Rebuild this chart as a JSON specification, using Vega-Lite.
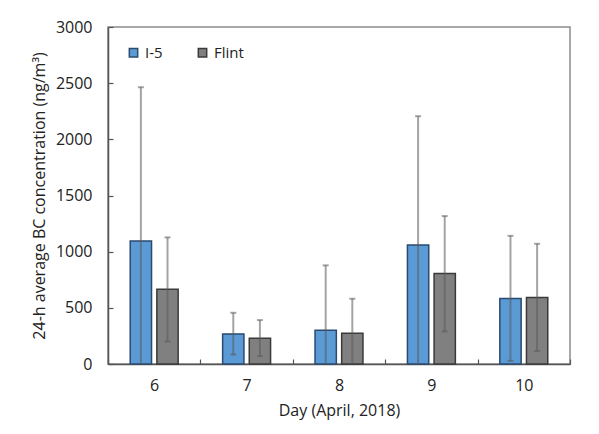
{
  "$schema": "https://vega.github.io/schema/vega-lite/v6.json",
  "width": 462,
  "height": 337,
  "autosize": "none",
  "padding": {"left": 108, "top": 27, "right": 29, "bottom": 70},
  "background": "white",
  "config": {
    "font": "Open Sans",
    "view": {"stroke": "#8c8c8c", "strokeWidth": 1.5},
    "axis": {"labelFont": "Open Sans", "titleFont": "Open Sans", "labelColor": "#222", "titleColor": "#222", "labelFontSize": 16, "titleFontSize": 16, "titleFontWeight": "normal", "grid": false, "domainColor": "#555", "domainWidth": 1.5, "tickColor": "#555", "tickWidth": 1.2}
  },
  "data": {
    "values": [
      {"day": "6", "site": "I-5", "mean": 1095, "lower": -275, "upper": 2464},
      {"day": "6", "site": "Flint", "mean": 665, "lower": 200, "upper": 1127},
      {"day": "7", "site": "I-5", "mean": 268, "lower": 84, "upper": 456},
      {"day": "7", "site": "Flint", "mean": 229, "lower": 70, "upper": 391},
      {"day": "8", "site": "I-5", "mean": 300, "lower": -278, "upper": 878},
      {"day": "8", "site": "Flint", "mean": 273, "lower": -35, "upper": 581},
      {"day": "9", "site": "I-5", "mean": 1059, "lower": -88, "upper": 2206},
      {"day": "9", "site": "Flint", "mean": 805, "lower": 290, "upper": 1317},
      {"day": "10", "site": "I-5", "mean": 583, "lower": 28, "upper": 1141},
      {"day": "10", "site": "Flint", "mean": 593, "lower": 116, "upper": 1070}
    ]
  },
  "encoding": {
    "x": {
      "field": "day", "type": "ordinal", "sort": ["6", "7", "8", "9", "10"],
      "scale": {"paddingInner": 0, "paddingOuter": 0},
      "axis": {"title": "Day (April, 2018)", "labelAngle": 0, "tickBand": "extent", "tickSize": -5, "labelPadding": 18, "titlePadding": 9}
    },
    "xOffset": {"field": "site", "type": "nominal", "sort": ["I-5", "Flint"], "scale": {"paddingInner": 0.2, "paddingOuter": 0.835}}
  },
  "layer": [
    {
      "mark": {"type": "bar", "stroke": "#333", "strokeWidth": 1.5},
      "encoding": {
        "y": {
          "field": "mean", "type": "quantitative",
          "scale": {"domain": [0, 3000]},
          "axis": {"title": "24-h average BC concentration (ng/m³)", "format": "d", "values": [0, 500, 1000, 1500, 2000, 2500, 3000], "tickSize": -5, "labelPadding": 21, "titlePadding": 8}
        },
        "fill": {
          "field": "site", "type": "nominal",
          "scale": {"domain": ["I-5", "Flint"], "range": ["#5b9bd5", "#808080"]},
          "legend": {"title": null, "orient": "none", "legendX": 18, "legendY": 18, "direction": "horizontal", "symbolType": "square", "symbolSize": 70, "symbolStrokeColor": "#333", "symbolStrokeWidth": 1.5, "labelFontSize": 15, "labelFont": "Open Sans", "labelColor": "#222", "columnPadding": 32, "labelOffset": 4}
        },
        "stroke": {
          "field": "site", "type": "nominal",
          "scale": {"domain": ["I-5", "Flint"], "range": ["#2b4a6e", "#3a3a3a"]},
          "legend": null
        }
      }
    },
    {
      "mark": {"type": "rule", "color": "#595959", "opacity": 0.55, "strokeWidth": 2, "clip": true},
      "encoding": {
        "y": {"field": "lower", "type": "quantitative"},
        "y2": {"field": "upper"}
      }
    },
    {
      "mark": {"type": "tick", "color": "#595959", "opacity": 0.55, "thickness": 2, "size": 6, "clip": true},
      "encoding": {"y": {"field": "upper", "type": "quantitative"}}
    },
    {
      "mark": {"type": "tick", "color": "#595959", "opacity": 0.55, "thickness": 2, "size": 6, "clip": true},
      "encoding": {"y": {"field": "lower", "type": "quantitative"}}
    }
  ]
}
